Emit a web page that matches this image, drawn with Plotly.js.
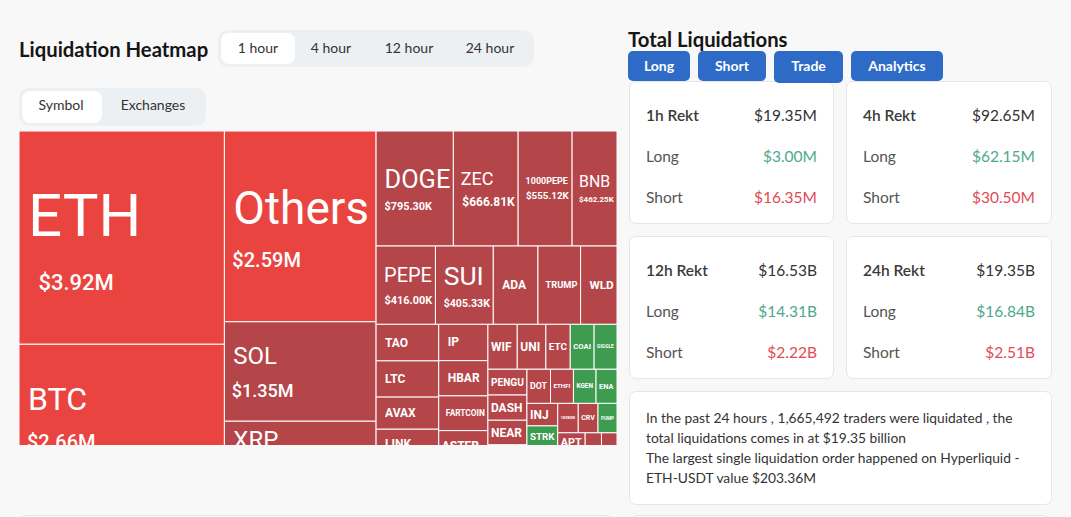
<!DOCTYPE html>
<html>
<head>
<meta charset="utf-8">
<script src="https://cdn.plot.ly/plotly-3.0.1.min.js"></script>
<style>
html,body{margin:0;padding:0;}
body{width:1071px;height:517px;overflow:hidden;background:#f8f8f8;font-family:Lato,"Noto Sans",sans-serif;color:#222;position:relative;}
.h{position:absolute;margin:0;font-size:20.3px;font-weight:700;color:#151515;line-height:20px;white-space:nowrap;}
.seg{position:absolute;background:#edf0f3;border-radius:10px;}
.seg .on{position:absolute;background:#fff;border-radius:8px;}
.seg .it{position:absolute;width:90px;text-align:center;font-size:14px;color:#333;white-space:nowrap;}
.btn{position:absolute;top:51px;height:30px;background:#2d6bc7;color:#fff;font-weight:700;font-size:14px;border-radius:5px;text-align:center;line-height:30px;z-index:2;}
.card{position:absolute;background:#fff;border:1px solid #e4e6e8;border-radius:7px;box-sizing:border-box;}
.row{position:absolute;left:16px;right:16px;height:20px;line-height:20px;font-size:15.5px;}
.row .l{position:absolute;left:0;color:#555;}
.row .v{position:absolute;right:0;color:#333;}
.row .hd{color:#3a3a3a;font-weight:600;}
.g{color:#4fa88c !important;}
.r{color:#e14b53 !important;}
.para{position:absolute;left:16px;top:16px;width:380px;font-size:13.8px;line-height:20px;color:#333;}
#clip{position:absolute;left:19px;top:131px;width:598px;height:314px;overflow:hidden;}
#tm{width:598px;height:358px;}
.stub{position:absolute;top:515px;height:30px;background:#fff;border:1px solid #e2e2e2;border-radius:7px;box-sizing:border-box;}
</style>
</head>
<body>
<div class="h" style="left:19px;top:39px;">Liquidation Heatmap</div>
<div class="seg" style="left:218px;top:30px;width:316px;height:37px;">
  <div class="on" style="left:3px;top:3px;width:74px;height:31px;"></div>
  <div class="it" style="left:-5px;top:9px;">1 hour</div>
  <div class="it" style="left:68px;top:9px;">4 hour</div>
  <div class="it" style="left:146px;top:9px;">12 hour</div>
  <div class="it" style="left:227px;top:9px;">24 hour</div>
</div>
<div class="seg" style="left:19px;top:88px;width:187px;height:38px;">
  <div class="on" style="left:3px;top:3px;width:80px;height:32px;"></div>
  <div class="it" style="left:-3px;top:8px;">Symbol</div>
  <div class="it" style="left:89px;top:8px;">Exchanges</div>
</div>
<div id="clip"><div id="tm"></div></div>

<div class="h" style="left:628px;top:29px;">Total Liquidations</div>
<div class="btn" style="left:628px;width:62px;">Long</div>
<div class="btn" style="left:698px;width:68px;">Short</div>
<div class="btn" style="left:774px;width:69px;height:32px;">Trade</div>
<div class="btn" style="left:851px;width:92px;">Analytics</div>

<div id="cards"></div>
<div class="card" style="left:629px;top:391px;width:423px;height:114px;">
  <div class="para">In the past 24 hours , 1,665,492 traders were liquidated , the total liquidations comes in at $19.35 billion<br>The largest single liquidation order happened on Hyperliquid - ETH-USDT value $203.36M</div>
</div>
<div class="stub" style="left:19px;width:594px;"></div>
<div class="stub" style="left:631px;width:419px;"></div>

<script>
// ---- Treemap data (1 hour) ----
const symbols = ['ETH','BTC','Others','SOL','XRP','DOGE','ZEC','1000PEPE','BNB','PEPE','SUI','ADA','TRUMP','WLD',
  'TAO','LTC','AVAX','LINK','HYPE','IP','HBAR','FARTCOIN','ASTER','AAVE','WIF','UNI','ETC','COAI','GIGGLE',
  'PENGU','DASH','NEAR','OP','ARB','DOT','ETHFI','KGEN','ENA','INJ','STRK','ZEN','XPL','1000BONK','CRV','PUMP',
  'APT','SEI','FIL','TIA','ORDI','WLFI','ONDO'];
const liquidationUSD = [3920000,2660000,2590000,1350000,920000,795300,666810,555120,462250,416000,405330,313000,299000,255000,
  205000,203000,180000,170000,165000,160000,155000,153000,135000,122000,118000,115000,98000,96000,92000,
  90000,88000,86000,78000,76000,72000,70000,69000,64000,62000,60000,58000,56000,54000,52000,50000,
  48000,46000,44000,42000,40000,40000,38000];
const dominantSide = ['short','short','short','short','short','short','short','short','short','short','short','short','short','short',
  'short','short','short','short','short','short','short','short','short','short','short','short','short','long','long',
  'short','short','short','short','short','short','short','long','long','short','long','short','short','short','short','long',
  'short','short','short','short','short','short','short'];

// ---- Card data ----
const periods = ['1h','4h','12h','24h'];
const rektTotal = ['$19.35M','$92.65M','$16.53B','$19.35B'];
const rektLong  = ['$3.00M','$62.15M','$14.31B','$16.84B'];
const rektShort = ['$16.35M','$30.50M','$2.22B','$2.51B'];

// ---- styles ----
const COLORS = {hot:'#e9443f', short:'#b4464a', long:'#3d9c4f'};
const nameSize  = {ETH:60, Others:46, BTC:32, SOL:24, XRP:24, DOGE:28, ZEC:18, BNB:24, PEPE:22, SUI:30, '1000PEPE':11};
const valueSize = {ETH:22, Others:20, BTC:20, SOL:18, XRP:18};
const baseSize  = {ETH:41, Others:33, BTC:30, SOL:25, XRP:25, DOGE:18, ZEC:16, BNB:17, PEPE:18, SUI:19, '1000PEPE':14};

function fmt(v){ return v>=1e6 ? '$'+(v/1e6).toFixed(2)+'M' : '$'+(v/1e3).toFixed(2)+'K'; }
function pad(sz, extra){
  const s = Math.min(sz, 24);
  const n = Math.max(1, Math.round((6 + (extra||0)) / (0.25*s)));
  return '<span style="font-size:'+s+'px">'+'\u00a0'.repeat(n)+'</span>';
}

const colors = liquidationUSD.map((v,i)=> v>=2e6 ? COLORS.hot : COLORS[dominantSide[i]]);
const texts = symbols.map((s,i)=>{
  const v = liquidationUSD[i];
  const ns = nameSize[s] || 12, vs = valueSize[s] || 12;
  const nw = ns<=14 ? 700 : 400, vw = vs<=14 ? 700 : 500;
  const small = v < 150000;
  let t = (small ? '' : pad(ns)) + '<span style="font-size:'+ns+'px;font-weight:'+nw+'">'+s+'</span>';
  if (v >= 400000) t += '<br>' + pad(vs, s==='ETH'?8:0) + '<span style="font-size:'+vs+'px;font-weight:'+vw+'">'+fmt(v)+'</span>';
  return t;
});
const bases = symbols.map(s=> baseSize[s] || 12);

Plotly.newPlot('tm', [{
  type:'treemap',
  labels: symbols,
  parents: symbols.map(()=> ''),
  values: liquidationUSD,
  text: texts,
  texttemplate: '%{text}',
  textposition: 'middle left',
  textfont: {family:'Roboto, "Noto Sans", sans-serif', color:'#ffffff', size: bases},
  marker: {colors: colors, line:{width:1, color:'#ffffff'}, pad:{t:0,l:0,r:0,b:0}},
  tiling: {packing:'squarify', squarifyratio:1.618, pad:0},
  pathbar: {visible:false},
  root: {color:'rgba(0,0,0,0)'},
  sort: true,
  hoverinfo: 'none'
}], {
  width:598, height:358,
  margin:{l:0,r:0,t:0,b:0},
  paper_bgcolor:'rgba(0,0,0,0)',
  plot_bgcolor:'rgba(0,0,0,0)',
  showlegend:false
}, {displayModeBar:false, staticPlot:true});

// ---- cards ----
const pos = [[629,81],[846,81],[629,236],[846,236]];
const cardsEl = document.getElementById('cards');
periods.forEach((p,i)=>{
  const c = document.createElement('div');
  c.className='card';
  c.style.left = pos[i][0]+'px'; c.style.top = pos[i][1]+'px';
  c.style.width = (i%2? 206:205)+'px'; c.style.height='143px';
  c.innerHTML =
    '<div class="row" style="top:23px"><span class="l hd">'+p+' Rekt</span><span class="v">'+rektTotal[i]+'</span></div>'+
    '<div class="row" style="top:64px"><span class="l">Long</span><span class="v g">'+rektLong[i]+'</span></div>'+
    '<div class="row" style="top:105px"><span class="l">Short</span><span class="v r">'+rektShort[i]+'</span></div>';
  cardsEl.appendChild(c);
});
</script>
</body>
</html>
